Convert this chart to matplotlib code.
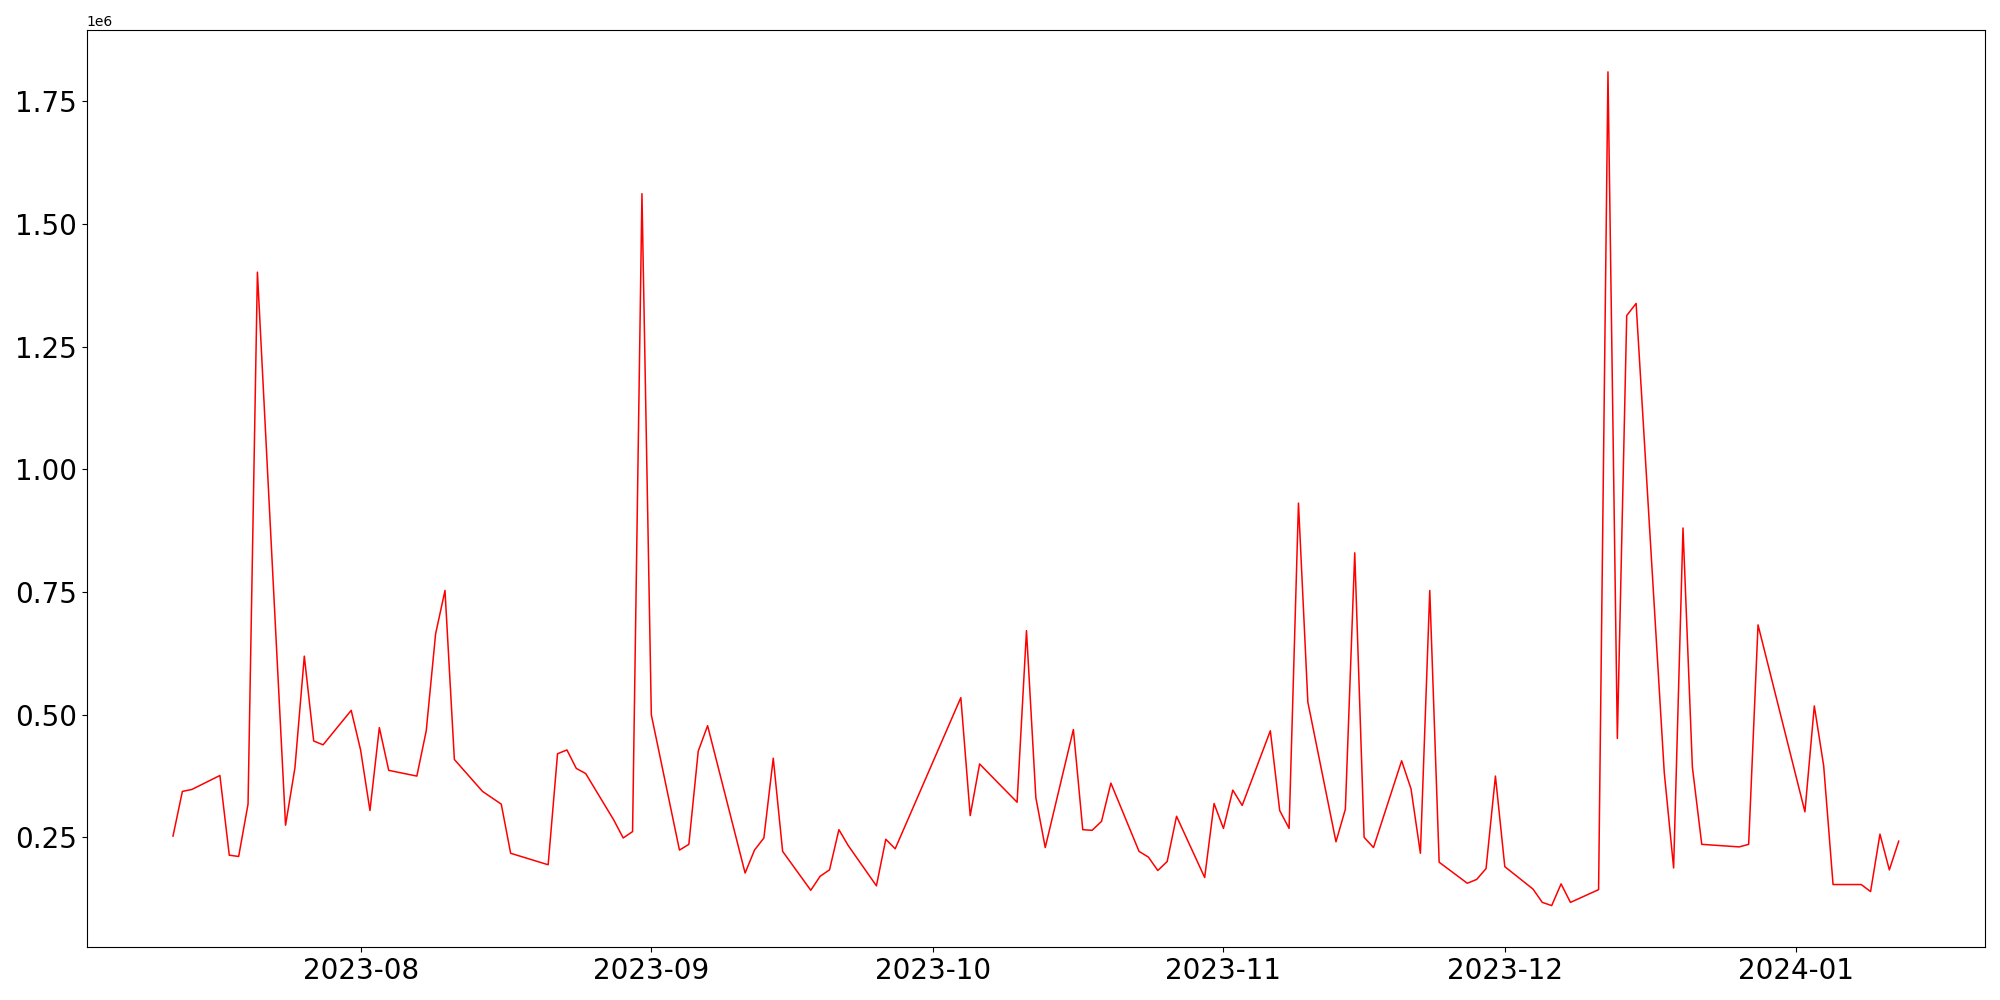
import pandas as pd
import matplotlib.pyplot as plt

# trading days (gaps = weekends / holidays)
dates = pd.to_datetime([
    '2023-07-12', '2023-07-13', '2023-07-14', '2023-07-17', '2023-07-18', '2023-07-19',
    '2023-07-20', '2023-07-21', '2023-07-24', '2023-07-25', '2023-07-26', '2023-07-27',
    '2023-07-28', '2023-07-31', '2023-08-01', '2023-08-02', '2023-08-03', '2023-08-04',
    '2023-08-07', '2023-08-08', '2023-08-09', '2023-08-10', '2023-08-11', '2023-08-14',
    '2023-08-16', '2023-08-17', '2023-08-21', '2023-08-22', '2023-08-23', '2023-08-24',
    '2023-08-25', '2023-08-28', '2023-08-29', '2023-08-30', '2023-08-31', '2023-09-01',
    '2023-09-04', '2023-09-05', '2023-09-06', '2023-09-07', '2023-09-11', '2023-09-12',
    '2023-09-13', '2023-09-14', '2023-09-15', '2023-09-18', '2023-09-19', '2023-09-20',
    '2023-09-21', '2023-09-22', '2023-09-25', '2023-09-26', '2023-09-27', '2023-10-04',
    '2023-10-05', '2023-10-06', '2023-10-10', '2023-10-11', '2023-10-12', '2023-10-13',
    '2023-10-16', '2023-10-17', '2023-10-18', '2023-10-19', '2023-10-20', '2023-10-23',
    '2023-10-24', '2023-10-25', '2023-10-26', '2023-10-27', '2023-10-30', '2023-10-31',
    '2023-11-01', '2023-11-02', '2023-11-03', '2023-11-06', '2023-11-07', '2023-11-08',
    '2023-11-09', '2023-11-10', '2023-11-13', '2023-11-14', '2023-11-15', '2023-11-16',
    '2023-11-17', '2023-11-20', '2023-11-21', '2023-11-22', '2023-11-23', '2023-11-24',
    '2023-11-27', '2023-11-28', '2023-11-29', '2023-11-30', '2023-12-01', '2023-12-04',
    '2023-12-05', '2023-12-06', '2023-12-07', '2023-12-08', '2023-12-11', '2023-12-12',
    '2023-12-13', '2023-12-14', '2023-12-15', '2023-12-18', '2023-12-19', '2023-12-20',
    '2023-12-21', '2023-12-22', '2023-12-26', '2023-12-27', '2023-12-28', '2024-01-02',
    '2024-01-03', '2024-01-04', '2024-01-05', '2024-01-08', '2024-01-09', '2024-01-10',
    '2024-01-11', '2024-01-12',
])

volume = [
    252600, 343600, 347500, 376000, 213600, 211000,
    317600, 1401700, 274700, 391700, 619200, 446300,
    438500, 508700, 428100, 304600, 473600, 386500,
    374800, 467100, 664700, 753000, 408600, 343600,
    317600, 217500, 194100, 420300, 428100, 390400,
    380000, 285100, 248700, 261700, 1561600, 499600,
    224000, 235700, 425500, 477500, 177200, 224000,
    248700, 411200, 221400, 142100, 170700, 183700,
    265600, 233100, 151200, 246100, 226600, 534700,
    294200, 399500, 321500, 671200, 330600, 229200,
    469700, 265600, 264300, 282500, 360500, 221400,
    209700, 182400, 200600, 292900, 168100, 318900,
    268200, 346200, 315000, 467100, 304600, 268200,
    931100, 525600, 240900, 307200, 829800, 250000,
    229200, 406000, 348800, 217500, 753000, 199300,
    156400, 164200, 186300, 374800, 190200, 144700,
    117400, 110900, 155100, 117400, 143400, 1809900,
    451500, 1313300, 1338000, 382600, 187600, 880400,
    393000, 235700, 230500, 235700, 682900, 302000,
    517800, 395600, 153800, 153800, 139500, 256500,
    183700, 242200,
]

fig, ax = plt.subplots(figsize=(20, 10))
ax.plot(dates, volume, color='red', linewidth=1.1)
ax.tick_params(axis='both', labelsize=20)
plt.tight_layout()
plt.savefig('out.png', dpi=100)
